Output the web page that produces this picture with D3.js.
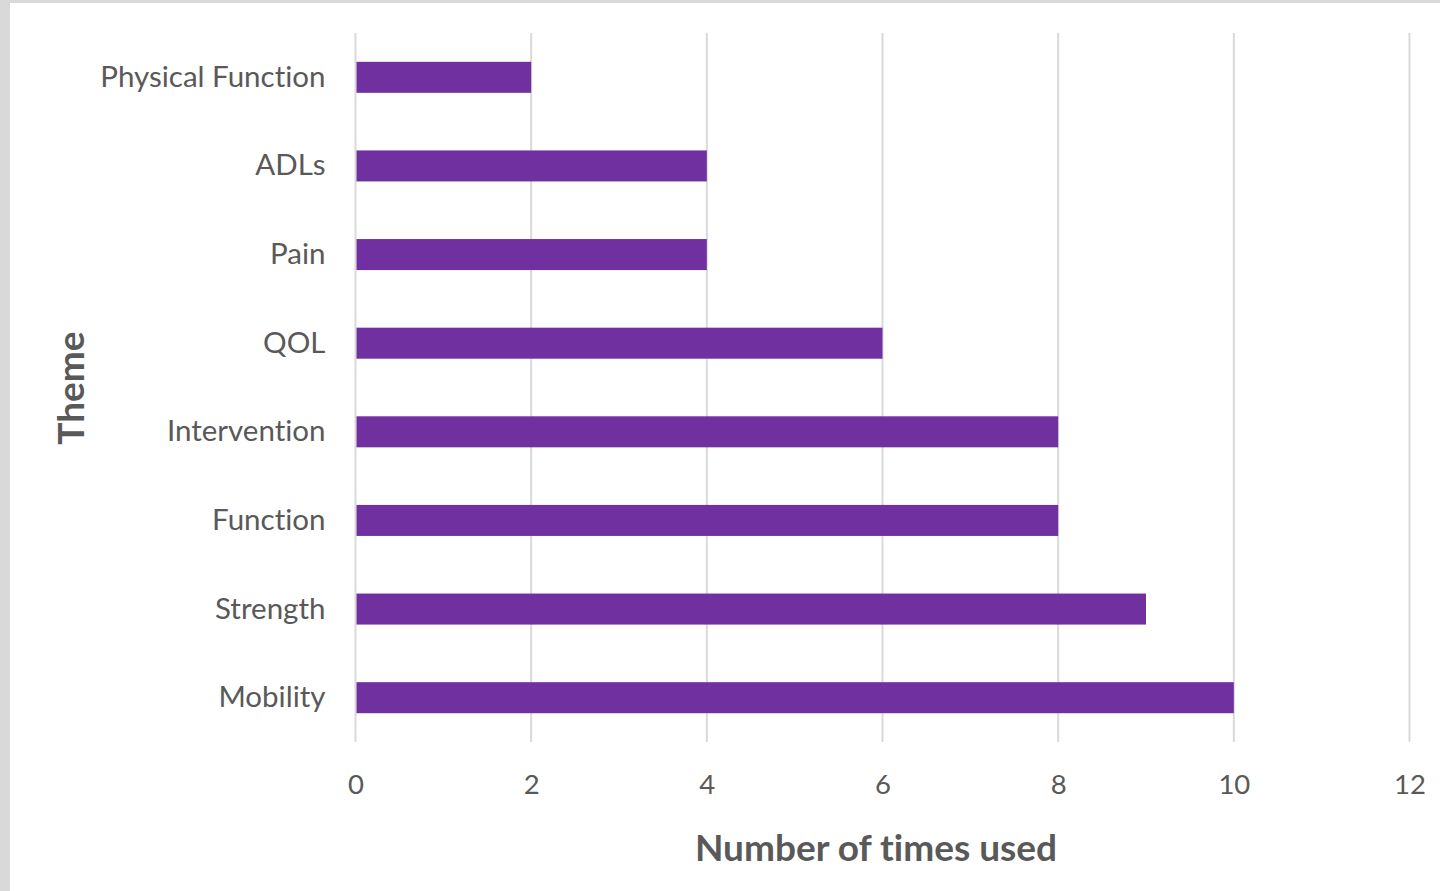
<!DOCTYPE html>
<html><head><meta charset="utf-8">
<script src="https://cdn.jsdelivr.net/npm/d3@7"></script>
<style>
html,body{margin:0;padding:0;background:#d9d9d9;}
svg{display:block;}
text{font-variant-ligatures:none;font-feature-settings:"liga" 0,"dlig" 0;}
</style></head><body>
<script>
const categories = ["Physical Function","ADLs","Pain","QOL","Intervention","Function","Strength","Mobility"];
const values = [2,4,4,6,8,8,9,10];
const xTicks = [0,2,4,6,8,10,12];
const xTitle = "Number of times used";
const yTitle = "Theme";

(function(){
const W = 1440, H = 891;
const svg = d3.select("body").append("svg").attr("width", W).attr("height", H);
svg.append("rect").attr("x",10).attr("y",3).attr("width",W-10).attr("height",H-3).attr("fill","#fff");

const pLeft = 355.5, pRight = 1409.5, pTop = 33, pBottom = 742;
const x = d3.scaleLinear().domain([0,12]).range([pLeft,pRight]);
const y = d3.scaleBand().domain(categories).range([pTop,pBottom]).paddingInner(0.65).paddingOuter(0.325);
const font = "Lato, 'Open Sans', sans-serif";

svg.append("g").selectAll("line").data(xTicks).join("line")
  .attr("x1",d=>x(d)).attr("x2",d=>x(d)).attr("y1",pTop).attr("y2",pBottom)
  .attr("stroke","#d9d9d9").attr("stroke-width",2);

svg.append("g").selectAll("rect").data(categories).join("rect")
  .attr("x",x(0)+1).attr("y",d=>y(d))
  .attr("width",(d,i)=>x(values[i])-x(0)-1).attr("height",y.bandwidth())
  .attr("fill","#7030a0");

const xAxis = svg.append("g").attr("transform",`translate(0,${pBottom})`)
  .call(d3.axisBottom(x).tickValues(xTicks).tickSize(0).tickPadding(32));
xAxis.select(".domain").remove();
xAxis.selectAll("text").attr("fill","#595959").style("font-family",font).style("font-size","27.5px");

const yAxis = svg.append("g").attr("transform",`translate(${pLeft},0)`)
  .call(d3.axisLeft(y).tickSize(0).tickPadding(30));
yAxis.select(".domain").remove();
yAxis.selectAll("text").attr("fill","#595959").style("font-family",font).style("font-size","29.5px");

svg.append("text").attr("x",876).attr("y",861).attr("text-anchor","middle")
  .attr("fill","#595959").style("font-family",font).style("font-size","37px").style("font-weight","bold").text(xTitle);
svg.append("text").attr("transform",`translate(84,${388}) rotate(-90)`).attr("text-anchor","middle")
  .attr("fill","#595959").style("font-family",font).style("font-size","37px").style("font-weight","bold").text(yTitle);
})();
</script>
</body></html>
